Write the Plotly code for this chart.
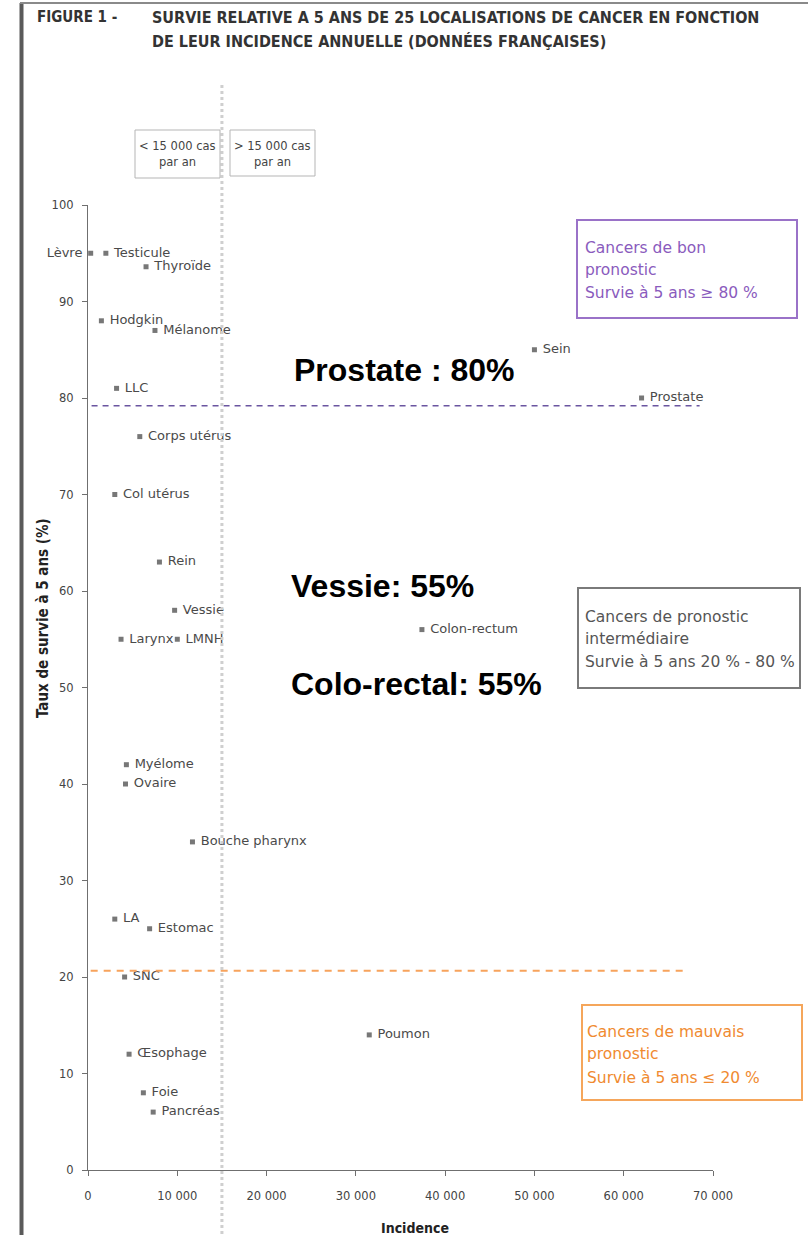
import plotly.graph_objects as go

# ---------------- data ----------------
names = ["Lèvre", "Testicule", "Thyroïde", "Hodgkin", "Mélanome", "LLC", "Sein", "Prostate",
         "Corps utérus", "Col utérus", "Rein", "Vessie", "Larynx", "LMNH", "Colon-rectum",
         "Myélome", "Ovaire", "Bouche pharynx", "LA", "Estomac", "SNC", "Poumon",
         "Œsophage", "Foie", "Pancréas"]
incidence = [300, 2000, 6500, 1500, 7500, 3200, 50000, 62000,
             5800, 3000, 8000, 9700, 3700, 10000, 37400,
             4300, 4200, 11700, 3000, 6900, 4100, 31500,
             4600, 6200, 7300]
survie = [95, 95, 93.6, 88, 87, 81, 85, 80,
          76, 70, 63, 58, 55, 55, 56,
          42, 40, 34, 26, 25, 20, 14,
          12, 8, 6]

x_ticks = [0, 10000, 20000, 30000, 40000, 50000, 60000, 70000]
x_ticktext = ["0", "10 000", "20 000", "30 000", "40 000", "50 000", "60 000", "70 000"]
y_ticks = [0, 10, 20, 30, 40, 50, 60, 70, 80, 90, 100]

bon_x = [400, 68500]
bon_y = [79.2, 79.2]
mauvais_x = [300, 67200]
mauvais_y = [20.65, 20.65]
seuil_incidence = 15000

title_l1 = "SURVIE RELATIVE A 5 ANS DE 25 LOCALISATIONS DE CANCER EN FONCTION"
title_l2 = "DE LEUR INCIDENCE ANNUELLE (DONNÉES FRANÇAISES)"

# ---------------- layout geometry ----------------
W, H = 808, 1235
ML, MR, MT, MB = 88, 95, 205, 65
PW = W - ML - MR
PH = H - MT - MB


def px(xp):
    return (xp - ML) / PW


def py(yp):
    return (H - MB - yp) / PH


label_font = dict(family="DejaVu Sans", size=13, color="#4a4a4a")
left_labels = {"Lèvre"}
positions = ["middle left" if n in left_labels else "middle right" for n in names]
shown = [(n + " ") if n in left_labels else (" " + n) for n in names]

fig = go.Figure()
fig.add_trace(go.Scatter(
    x=incidence, y=survie, mode="markers+text", text=shown,
    textposition=positions, textfont=label_font,
    marker=dict(symbol="square", size=5, color="#777777"),
    cliponaxis=False, showlegend=False, hoverinfo="skip"))

fig.add_trace(go.Scatter(x=bon_x, y=bon_y, mode="lines",
                         line=dict(color="#6a55a0", width=1.6, dash="6px,5px"),
                         showlegend=False, hoverinfo="skip"))
fig.add_trace(go.Scatter(x=mauvais_x, y=mauvais_y, mode="lines",
                         line=dict(color="#f7a35c", width=2, dash="7px,6px"),
                         showlegend=False, hoverinfo="skip"))

shapes = []
# vertical dotted separator
xs = seuil_incidence / 70000
shapes.append(dict(type="line", xref="paper", yref="paper", x0=xs, x1=xs,
                   y0=py(85), y1=py(1240),
                   line=dict(color="#cfcfcf", width=3, dash="dot")))
# left frame bar and top rule
shapes.append(dict(type="line", xref="paper", yref="paper", x0=px(21.5), x1=px(21.5),
                   y0=py(3), y1=py(1240), line=dict(color="#5a5a5a", width=4)))
shapes.append(dict(type="line", xref="paper", yref="paper", x0=px(20), x1=px(812),
                   y0=py(3), y1=py(3), line=dict(color="#8a8a8a", width=2)))


def rect(x0, y0, x1, y1, color, width):
    shapes.append(dict(type="rect", xref="paper", yref="paper",
                       x0=px(x0), x1=px(x1), y0=py(y0), y1=py(y1),
                       line=dict(color=color, width=width), fillcolor="rgba(0,0,0,0)"))


rect(135, 130, 220, 178, "#b5b5b5", 1)
rect(230, 130, 315, 176, "#b5b5b5", 1)
rect(577, 220, 797, 318, "#9a72c8", 2)
rect(578, 588, 800, 688, "#7a7a7a", 2)
rect(582, 1005, 802, 1100, "#f5a65b", 2)

annotations = []


def txt(text, x, y, font, xanchor="left", yanchor="middle", angle=0):
    annotations.append(dict(text=text, xref="paper", yref="paper", x=px(x), y=py(y),
                            xanchor=xanchor, yanchor=yanchor, showarrow=False,
                            font=font, textangle=angle))


small = dict(family="DejaVu Sans", size=11.5, color="#444444")
txt("< 15 000 cas", 177.5, 146, small, xanchor="center")
txt("par an", 177.5, 162, small, xanchor="center")
txt("> 15 000 cas", 272.5, 146, small, xanchor="center")
txt("par an", 272.5, 162, small, xanchor="center")

bf = dict(family="DejaVu Sans", size=15.5, color="#8a5bbd")
txt("Cancers de bon", 583, 248, bf)
txt("pronostic", 583, 270, bf)
txt("Survie à 5 ans ≥ 80 %", 583, 293, bf)
gf = dict(family="DejaVu Sans", size=15.5, color="#555555")
txt("Cancers de pronostic", 583, 617, gf)
txt("intermédiaire", 583, 639, gf)
txt("Survie à 5 ans 20 % - 80 %", 583, 662, gf)
of = dict(family="DejaVu Sans", size=15.5, color="#f08a30")
txt("Cancers de mauvais", 585, 1032, of)
txt("pronostic", 585, 1054, of)
txt("Survie à 5 ans ≤ 20 %", 585, 1078, of)

big = dict(family="Liberation Sans, Arial", size=32, color="#000000")
txt("<b>Prostate : 80%</b>", 404.5, 370, big, xanchor="center")
txt("<b>Vessie: 55%</b>", 382.5, 586, big, xanchor="center")
txt("<b>Colo-rectal: 55%</b>", 416.5, 684, big, xanchor="center")

tf = dict(family="Liberation Sans Narrow, DejaVu Sans Condensed, Arial Narrow", size=16, color="#333333")
tf0 = dict(tf, size=15)
txt("<b>FIGURE 1 -</b>", 35, 17, tf0)
txt("<b>" + title_l1 + "</b>", 150, 17, tf)
txt("<b>" + title_l2 + "</b>", 150, 42, tf)

af = dict(family="DejaVu Sans Condensed, DejaVu Sans", size=15, color="#222222")
txt("<b>Taux de survie à 5 ans (%)</b>", 43, 618, af, xanchor="center", angle=-90)
xf = dict(af, size=14)
txt("<b>Incidence</b>", 415, 1218, xf, xanchor="center", yanchor="top")

tick_font = dict(family="DejaVu Sans", size=11.5, color="#444444")
fig.update_layout(
    width=W, height=H,
    margin=dict(l=ML, r=MR, t=MT, b=MB),
    plot_bgcolor="white", paper_bgcolor="white",
    shapes=shapes, annotations=annotations,
    xaxis=dict(range=[0, 70000], tickvals=x_ticks, ticktext=x_ticktext,
               showgrid=False, zeroline=False, showline=True, linecolor="#6f6f6f",
               linewidth=1.3, ticks="outside", ticklen=5, tickcolor="#6f6f6f",
               tickfont=tick_font, ticklabelstandoff=10, fixedrange=True),
    yaxis=dict(range=[0, 100], tickvals=y_ticks,
               showgrid=False, zeroline=False, showline=True, linecolor="#6f6f6f",
               linewidth=1.3, ticks="outside", ticklen=5, tickcolor="#6f6f6f",
               tickfont=tick_font, ticklabelstandoff=6, fixedrange=True),
)

fig.write_html("out.html", config={"displayModeBar": False},
               post_script="document.body.style.margin='0px';")
